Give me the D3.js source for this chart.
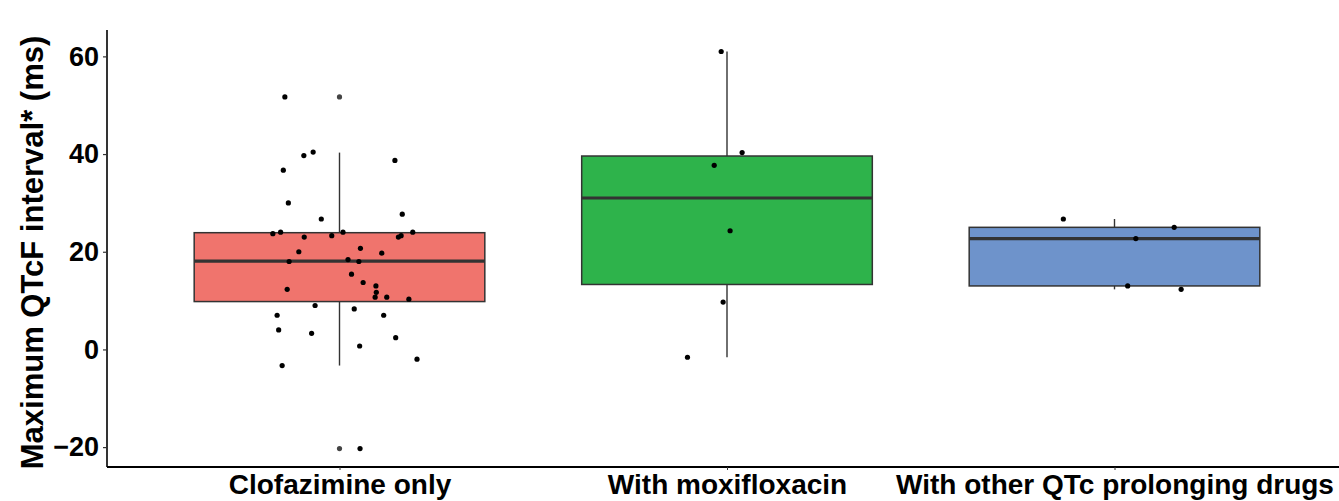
<!DOCTYPE html>
<html>
<head>
<meta charset="utf-8">
<script src="https://cdn.jsdelivr.net/npm/d3@7"></script>
<style>
  html, body { margin: 0; padding: 0; background: #fff; }
  svg { display: block; font-family: "Liberation Sans", Arial, Helvetica, sans-serif; }
</style>
</head>
<body>
<svg id="chart" width="1339" height="501"></svg>
<script>
// Groups shown on the x axis
const categories = ["Clofazimine only", "With moxifloxacin", "With other QTc prolonging drugs"];
const fills = ["#F0746D", "#2EB34B", "#6E93CB"];

// Box summaries per group (ms)
const lowerWhisker = [-3.3, -1.6, 12.3];
const q1           = [9.8, 13.3, 13.0];
const median       = [18.1, 31.0, 22.7];
const q3           = [23.9, 39.6, 25.0];
const upperWhisker = [40.3, 61.0, 26.7];
const outliers     = [[51.7, -20.3], [], []];

// Individual patients: maximum QTcF (ms) and horizontal jitter (fraction of group spacing)
const clofazValues = [51.7, 39.7, 40.4, 38.7, 36.7, 30.0, 26.7, 27.7, 23.7, 24.0, 23.0, 23.3, 24.0, 23.0,
  23.3, 24.0, 20.7, 20.0, 19.7, 18.0, 18.4, 18.0, 15.4, 13.7, 13.0, 11.7, 10.7, 10.7, 10.3, 12.3,
  9.0, 8.3, 7.0, 7.0, 4.0, 3.3, 2.4, 0.7, -2.0, -3.3, -20.3];
const clofazJitter = [-0.141, -0.092, -0.068, 0.143, -0.145, -0.132, -0.047, 0.162, -0.172, -0.152, -0.091, -0.020, 0.009, 0.152,
  0.159, 0.189, 0.054, -0.105, 0.109, -0.130, 0.022, 0.050, 0.031, 0.061, 0.094, 0.095, 0.092, 0.122, 0.179, -0.135,
  -0.063, 0.038, -0.161, 0.114, -0.157, -0.072, 0.145, 0.052, 0.200, -0.148, 0.053];
const moxiValues = [61.0, 40.3, 37.7, 24.3, 9.7, -1.6];
const moxiJitter = [-0.015, 0.039, -0.033, 0.008, -0.010, -0.102];
const otherValues = [26.7, 25.0, 22.7, 13.0, 12.3];
const otherJitter = [-0.132, 0.154, 0.055, 0.034, 0.172];

const yTicks = [-20, 0, 20, 40, 60];

const pointGroups = [
  { values: clofazValues, jitter: clofazJitter },
  { values: moxiValues, jitter: moxiJitter },
  { values: otherValues, jitter: otherJitter }
];

const svg = d3.select("#chart");
const panel = { left: 107, top: 30, bottom: 467, right: 1347 };

const x = d3.scalePoint()
  .domain(categories)
  .range([panel.left, panel.right])
  .padding(0.6);
const step = x.step();
const boxW = step * 0.75;

const y = d3.scaleLinear()
  .domain([-24.07, 65.4])
  .range([panel.bottom, panel.top]);

const boxes = categories.map((c, i) => ({
  cat: c, fill: fills[i],
  lo: lowerWhisker[i], q1: q1[i], med: median[i], q3: q3[i], hi: upperWhisker[i],
  out: outliers[i]
}));

const g = svg.append("g");
const boxColor = "#333333";

// whiskers
g.selectAll("line.whisk-up").data(boxes).join("line")
  .attr("x1", d => x(d.cat)).attr("x2", d => x(d.cat))
  .attr("y1", d => y(d.q3)).attr("y2", d => y(d.hi))
  .attr("stroke", boxColor).attr("stroke-width", 1.4);
g.selectAll("line.whisk-lo").data(boxes).join("line")
  .attr("x1", d => x(d.cat)).attr("x2", d => x(d.cat))
  .attr("y1", d => y(d.q1)).attr("y2", d => y(d.lo))
  .attr("stroke", boxColor).attr("stroke-width", 1.4);

// boxes
g.selectAll("rect.box").data(boxes).join("rect")
  .attr("x", d => x(d.cat) - boxW / 2)
  .attr("width", boxW)
  .attr("y", d => y(d.q3))
  .attr("height", d => y(d.q1) - y(d.q3))
  .attr("fill", d => d.fill)
  .attr("stroke", boxColor).attr("stroke-width", 1.5);

// medians
g.selectAll("line.med").data(boxes).join("line")
  .attr("x1", d => x(d.cat) - boxW / 2).attr("x2", d => x(d.cat) + boxW / 2)
  .attr("y1", d => y(d.med)).attr("y2", d => y(d.med))
  .attr("stroke", boxColor).attr("stroke-width", 3.2);

// boxplot outliers
boxes.forEach(b => {
  g.selectAll(null).data(b.out).join("circle")
    .attr("cx", x(b.cat)).attr("cy", v => y(v)).attr("r", 2.6)
    .attr("fill", "#444");
});

// jittered patient points
pointGroups.forEach((pg, i) => {
  g.selectAll(null).data(pg.values.map((v, k) => ({ v, j: pg.jitter[k] }))).join("circle")
    .attr("cx", d => x(categories[i]) + d.j * step)
    .attr("cy", d => y(d.v))
    .attr("r", 2.6)
    .attr("fill", "#000");
});

// y axis
const yAxis = svg.append("g")
  .attr("transform", `translate(${panel.left},0)`)
  .call(d3.axisLeft(y).tickValues(yTicks).tickSize(4).tickPadding(4)
    .tickFormat(d => d < 0 ? "\u2212" + Math.abs(d) : d));
yAxis.select(".domain").attr("d", `M0,${panel.top}V${panel.bottom}`).attr("stroke", "#000").attr("stroke-width", 1.6);
yAxis.selectAll(".tick line").attr("stroke", "#333").attr("stroke-width", 1.2);
yAxis.selectAll(".tick text")
  .attr("fill", "#000").style("font-size", "27px").style("font-weight", "bold")
  .attr("font-family", "Liberation Sans, Arial, sans-serif");

// x axis
const xAxis = svg.append("g")
  .attr("transform", `translate(0,${panel.bottom})`)
  .call(d3.axisBottom(x).tickSize(3).tickPadding(4));
xAxis.select(".domain").attr("d", `M${panel.left},0H${panel.right}`).attr("stroke", "#000").attr("stroke-width", 2.2);
xAxis.selectAll(".tick line").attr("stroke", "#333");
xAxis.selectAll(".tick text")
  .attr("fill", "#000").style("font-size", "28px").style("font-weight", "bold")
  .attr("font-family", "Liberation Sans, Arial, sans-serif")
  .attr("y", 27).attr("dy", null);

// y title
svg.append("text")
  .attr("transform", `translate(43,${(panel.top + panel.bottom) / 2 + 4}) rotate(-90)`)
  .attr("text-anchor", "middle")
  .style("font-size", "31px").style("font-weight", "bold")
  .attr("fill", "#000")
  .text("Maximum QTcF interval* (ms)");
</script>
</body>
</html>
